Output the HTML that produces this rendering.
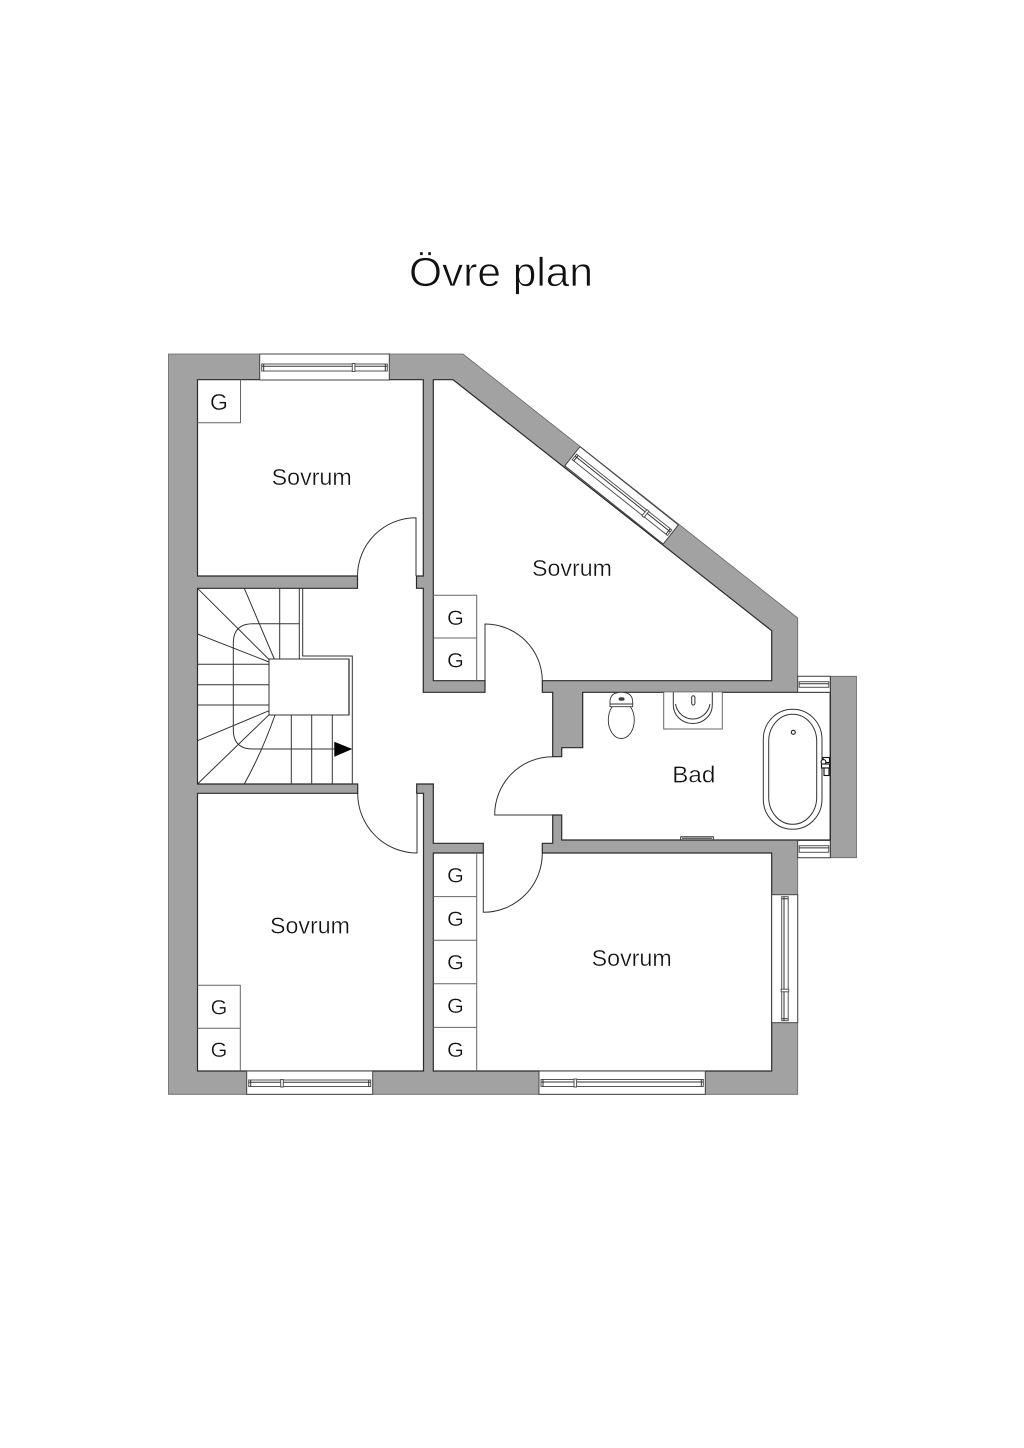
<!DOCTYPE html>
<html>
<head>
<meta charset="utf-8">
<title>Övre plan</title>
<style>
html,body{margin:0;padding:0;background:#fff;width:1024px;height:1448px;overflow:hidden}
svg{display:block}
text{font-family:"Liberation Sans",sans-serif;fill:#111;stroke:#fff;stroke-width:.35;paint-order:normal}
.l{fill:none;stroke:#333;stroke-width:1}
.b{fill:#fff;stroke:#666;stroke-width:1}
.g{font-size:21.5px;text-anchor:middle}
.w{fill:#fff;stroke:#444;stroke-width:1}
.r{fill:#fff;stroke:#555;stroke-width:1}
</style>
</head>
<body>
<svg width="1024" height="1448" viewBox="0 0 1024 1448" xmlns="http://www.w3.org/2000/svg">
<rect width="1024" height="1448" fill="#fff"/>
<text x="409" y="286" font-size="41" textLength="184" lengthAdjust="spacingAndGlyphs" style="stroke-width:.7">Övre plan</text>

<!-- walls -->
<path fill="#a2a2a2" stroke="#666" stroke-width=".8" d="M168.5 354H463L797.7 618V676.3H856.5V857.7H797.7V1094.3H168.5Z"/>
<path fill="#fff" stroke="#2a2a2a" stroke-width="1.2" d="M197.5 379.7H423.3V576H416.5V588.3H423.3V692.3H485V680.7H433.3V379.7H453L771.7 630.7V680.7H542.3V692.3H552.7V756.7H561.7V747.7H582.7V692.3H830.3V840H561.7V815H552.7V843.3H542.3V853H771.7V1071H433.3V853H483.3V843.3H433.3V784H416.7V793.3H423.5V1071H197.5V793.3H357.7V784H197.5V588.3H357.5V576H197.5Z"/>
<path stroke="#2a2a2a" stroke-width="1.2" d="M830.3 676.3V857.7"/>

<!-- windows -->
<g transform="translate(259.7 354)"><rect class="w" width="129.6" height="26"/><rect class="r" x="2" y="10" width="125.6" height="7"/><path class="l" d="M2 12.3H127.6M4 10V17M125.6 10V17"/><rect class="r" x="92.6" y="9.5" width="2.6" height="8"/></g>
<g transform="translate(246.7 1071)"><rect class="w" width="126" height="23.3"/><rect class="r" x="2" y="9" width="122" height="6.5"/><path class="l" d="M2 11.3H124M4 9V15.5M122 9V15.5"/><rect class="r" x="34" y="8.5" width="2.6" height="7.5"/></g>
<g transform="translate(539 1071)"><rect class="w" width="166.3" height="23.3"/><rect class="r" x="2" y="8.5" width="162.3" height="7"/><path class="l" d="M2 11H164.3M4 8.5V15.5M162.3 8.5V15.5"/><rect class="r" x="35" y="8" width="2.6" height="8"/></g>
<g transform="matrix(0 1 1 0 771.7 894.7)"><rect class="w" width="128" height="26"/><rect class="r" x="2" y="10" width="124" height="6.5"/><path class="l" d="M2 12.3H126M4 10V16.5M124 10V16.5"/><rect class="r" x="94.5" y="9.5" width="2.6" height="7.5"/></g>
<g transform="translate(580 446.7) rotate(38.5)"><rect class="w" width="125.7" height="24.4"/><rect class="r" x="2" y="8" width="121.7" height="7"/><path class="l" d="M2 10.4H123.7M4 8V15M121.7 8V15"/><rect class="r" x="91.5" y="7.5" width="2.6" height="8"/></g>
<g transform="translate(797.7 676.3)"><rect class="w" width="32.6" height="16"/><rect class="r" x="1.5" y="5.4" width="29.6" height="5.6"/><path class="l" d="M1.5 7.4H31.1"/></g>
<g transform="translate(797.7 840.5)"><rect class="w" width="32.6" height="17.2"/><rect class="r" x="1.5" y="5.2" width="29.6" height="6.6"/><path class="l" d="M1.5 7.4H31.1"/></g>

<!-- closets -->
<path class="b" d="M197.5 422.7H240.5V379.7"/>
<path class="b" d="M433.3 595.3H476.7V680.7M433.3 638H476.7"/>
<path class="b" d="M476.7 853V1071M433.3 896.6H476.7M433.3 940.2H476.7M433.3 983.8H476.7M433.3 1027.4H476.7"/>
<path class="b" d="M197.5 985.3H240.3V1071M197.5 1028.3H240.3"/>
<text class="g" x="219" y="410" style="font-size:23px">G</text>
<text class="g" x="455.5" y="625">G</text>
<text class="g" x="455.5" y="667.5">G</text>
<text class="g" x="455.5" y="882.5">G</text>
<text class="g" x="455.5" y="926">G</text>
<text class="g" x="455.5" y="969.5">G</text>
<text class="g" x="455.5" y="1013">G</text>
<text class="g" x="455.5" y="1057">G</text>
<text class="g" x="219" y="1014.5">G</text>
<text class="g" x="219" y="1057">G</text>

<!-- doors -->
<path class="l" d="M357.5 576A58.5 58.5 0 0 1 416 517.7V576"/>
<path class="l" d="M357.7 793.3A59.5 59.5 0 0 0 417 853V793.3"/>
<path class="l" d="M485 680.7V624A57.3 57 0 0 1 542.3 680.7"/>
<path class="l" d="M552.7 756.7A58 58 0 0 0 494.7 815H552.7"/>
<path class="l" d="M483.3 853V912.3A59 59 0 0 0 542.3 853"/>

<!-- stairs -->
<g fill="none" stroke="#333" stroke-width="1">
<path d="M269 659H349V715H269Z" fill="#fff"/>
<path d="M349 659V715" stroke-width="1.3"/>
<path d="M302.7 588.3V656H352.3V784" stroke-width="1"/>
<path d="M299.3 588.3V659M279.7 588.3V659"/>
<path d="M299.3 623.7H253Q233.3 623.7 233.3 643V730Q233.3 749 253 749H336"/>
<path d="M197.5 588.3L269.5 660M244.3 588.3L274.3 659M197.5 634L269 662"/>
<path d="M197.5 664.3H269M197.5 684.7H269M197.5 705H269"/>
<path d="M197.5 740.7L269 710.7M197.5 784L269.5 714.3M244.3 784Q262 752 275 715"/>
<path d="M291.3 715V784M311.7 715V784M332.3 715V784"/>
</g>
<path d="M334.3 741.7V756.7L352.3 749Z" fill="#000"/>

<!-- toilet -->
<g fill="#fff" stroke="#333" stroke-width="0.9">
<ellipse cx="621.3" cy="720" rx="13" ry="18.5"/>
<path d="M610 706.7V702Q610 692.3 621.3 692.3T632.7 702V706.7Z"/>
<path d="M610 704H632.7" />
<ellipse cx="621.6" cy="699" rx="2.6" ry="1.3" fill="#444"/>
</g>

<!-- sink -->
<path class="b" d="M663.7 692.3V729H722.3V692.3"/>
<path class="l" d="M673.3 692.3V705A19.5 18.5 0 0 0 712.3 705V692.3"/>
<path class="l" d="M675.5 704A17.5 18 0 0 0 710 704"/>
<rect class="l" x="691.7" y="695.7" width="3.2" height="9.3" rx="1.6"/>

<!-- bathtub -->
<rect x="763.3" y="709.3" width="58.7" height="120" rx="29.3" ry="30" fill="#fff" stroke="#333" stroke-width="1"/>
<rect x="768.7" y="714.3" width="48" height="110" rx="24" ry="27" fill="#fff" stroke="#333" stroke-width="1"/>
<circle cx="793.3" cy="732.3" r="2" fill="#fff" stroke="#222" stroke-width="1.1"/>
<g fill="#fff" stroke="#111" stroke-width="1.1">
<rect x="823" y="757.5" width="6.5" height="5"/>
<circle cx="823.5" cy="762" r="2.4"/>
<rect x="821.5" y="764" width="8" height="4"/>
<rect x="824" y="768" width="5" height="7.5"/>
</g>
<!-- radiator -->
<path class="l" d="M680.7 840V836.7H713.3V840M682 838.2H712"/>

<!-- labels -->
<text x="271.7" y="485" font-size="23" textLength="80" lengthAdjust="spacingAndGlyphs">Sovrum</text>
<text x="532" y="576" font-size="23" textLength="80" lengthAdjust="spacingAndGlyphs">Sovrum</text>
<text x="270" y="933.5" font-size="23" textLength="80" lengthAdjust="spacingAndGlyphs">Sovrum</text>
<text x="591.7" y="966" font-size="23" textLength="80" lengthAdjust="spacingAndGlyphs">Sovrum</text>
<text x="672.3" y="782.7" font-size="23" textLength="43" lengthAdjust="spacingAndGlyphs">Bad</text>
</svg>
</body>
</html>
